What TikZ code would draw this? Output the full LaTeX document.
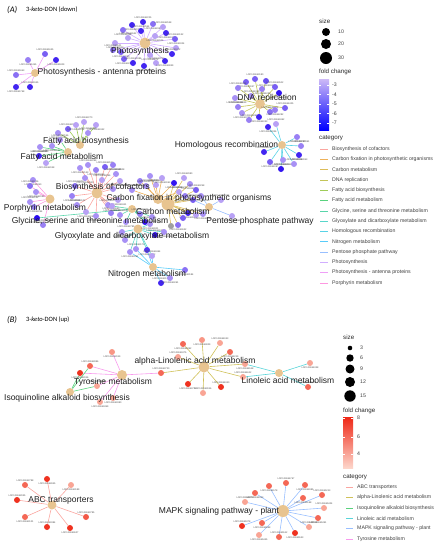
\documentclass[tikz,border=0pt]{standalone}
\usepackage{fontspec}
\setmainfont{Liberation Sans}
\newfontfamily\titfont{Carlito}
\usetikzlibrary{calc}
\pgfdeclarelayer{edgelayer}
\pgfsetlayers{edgelayer,main}
\definecolor{cA1}{HTML}{F8766D}\definecolor{cA2}{HTML}{E58700}
\definecolor{cA3}{HTML}{C99800}\definecolor{cA4}{HTML}{A3A500}
\definecolor{cA5}{HTML}{6BB100}\definecolor{cA6}{HTML}{00BA38}
\definecolor{cA7}{HTML}{00BF7D}\definecolor{cA8}{HTML}{00C0AF}
\definecolor{cA9}{HTML}{00BCD8}\definecolor{cA10}{HTML}{00B0F6}
\definecolor{cA11}{HTML}{619CFF}\definecolor{cA12}{HTML}{B983FF}
\definecolor{cA13}{HTML}{E76BF3}\definecolor{cA14}{HTML}{FD61D1}
\definecolor{cB1}{HTML}{F8766D}\definecolor{cB2}{HTML}{B79F00}
\definecolor{cB3}{HTML}{00BA38}\definecolor{cB4}{HTML}{00BFC4}
\definecolor{cB5}{HTML}{619CFF}\definecolor{cB6}{HTML}{F564E3}
\definecolor{gAl}{HTML}{C8B2F6}\definecolor{gAd}{HTML}{2A0CF0}
\definecolor{gBl}{HTML}{FCC4B4}\definecolor{gBd}{HTML}{EE2A18}
\definecolor{hubc}{HTML}{E8C490}
\tikzset{
 gene/.style={circle, inner sep=0pt, minimum size=6pt, draw=none},
 hub/.style={circle, inner sep=0pt, fill=hubc, draw=none},
 edge/.style={line width=0.6pt},
 hublab/.style={font=\fontsize{8.5}{9}\selectfont, text=black!88, inner sep=0pt},
 glab/.style={font=\fontsize{2.4}{2.6}\selectfont, text=black!70, inner sep=0pt},
 legtitle/.style={font=\fontsize{6.2}{7}\selectfont, anchor=west, inner sep=0pt, text=black!85},
 legtxt/.style={font=\fontsize{5.2}{6}\selectfont, anchor=west, text=black!75, inner sep=0pt},
 legdot/.style={circle, fill=black, inner sep=0pt, draw=none},
}
\newcommand\genes[3]{%
 \foreach \gx/\gy/\gs [count=\gi] in {#3} {
   \node[gene, fill=\gdark!\gs!\glight] (#1-\gi) at (\gx,\gy) {};
   \pgfmathtruncatemacro\gnum{mod(\gi*79+\gx*7+\gy*3,9000)+1000}
   \pgfmathsetmacro\gdy{(mod(\gi,2)==0) ? -4.6 : 4.6}
   \node[glab] (#1-\gi-t) at ($(#1-\gi)+(0,\gdy)$) {LOC10365\gnum};
   \begin{pgfonlayer}{edgelayer}\draw[edge, draw=#2!65!white] (#1) -- (#1-\gi);\end{pgfonlayer}
 }}
\newcommand\glink[3]{\begin{pgfonlayer}{edgelayer}\draw[edge, draw=#3!65!white] (#1) -- (#2);\end{pgfonlayer}}
\begin{document}
\begin{tikzpicture}[x=1pt,y=-1pt]
\useasboundingbox (0,0) rectangle (438,550);
% ---------------- Panel A ----------------
\node[anchor=west, inner sep=0pt, font=\titfont\fontsize{8.5}{9}\selectfont\itshape] (tA) at (7,10) {(A)};
\node[anchor=west, inner sep=0pt, font=\titfont\fontsize{6.5}{7}\selectfont] (tA2) at (26,10) {3-\textit{keto}-DON (down)};
\def\gdark{gAd}\def\glight{gAl}
\node[hub, minimum size=11pt] (ps) at (145,43) {};
\node[hub, minimum size=8pt] (an) at (35,73) {};
\node[hub, minimum size=10pt] (dna) at (260,104) {};
\node[hub, minimum size=8pt] (hr) at (282,145) {};
\node[hub, minimum size=8pt] (fab) at (80,145) {};
\node[hub, minimum size=8pt] (fam) at (68,152) {};
\node[hub, minimum size=11pt] (cof) at (97,193) {};
\node[hub, minimum size=9pt] (por) at (50,199) {};
\node[hub, minimum size=10pt] (cfx) at (158,199) {};
\node[hub, minimum size=13pt] (cm) at (168,204) {};
\node[hub, minimum size=8pt] (gly) at (132,209) {};
\node[hub, minimum size=9pt] (glx) at (138,229) {};
\node[hub, minimum size=8pt] (nit) at (153,267) {};
\node[hub, minimum size=8pt] (pp) at (209,207) {};
\genes{ps}{cA12}{132/25/85, 143/22/85, 153/24/40, 163/27/10, 123/30/40, 141/31/85, 166/33/85, 128/38/10, 155/36/10, 175/39/50, 115/43/10, 176/48/10, 121/52/50, 172/54/85, 124/59/50, 133/63/85, 144/66/85, 156/63/10, 165/61/85, 113/50/40, 150/55/10}
\genes{an}{cA13}{28/60/30, 45/54/50, 56/60/85, 16/75/40, 16/87/85, 30/87/85}
\genes{dna}{cA4}{246/82/50, 255/79/50, 266/81/60, 275/87/50, 279/93/95, 238/88/30, 235/98/20, 238/107/30, 242/113/20, 249/120/30, 259/117/85, 270/112/40, 275/110/30, 285/108/50, 262/89/30, 251/96/20}
\genes{hr}{cA9}{268/127/85, 276/124/10, 297/137/30, 301/146/30, 299/155/85, 294/164/20, 283/160/20, 281/169/95, 270/162/50, 264/152/85}
\genes{fab}{cA5}{58/133/20, 68/129/50, 76/125/10, 84/122/10, 96/125/10, 88/133/20}
\genes{fam}{cA6}{40/147/20, 39/156/85, 46/163/10, 60/140/20, 52/146/20}
\genes{cof}{cA1}{80/168/20, 88/165/20, 96/170/30, 105/167/50, 113/165/30, 116/174/20, 120/181/10, 102/180/10, 85/178/20, 75/186/40, 72/196/30, 77/205/20, 86/212/10, 108/205/20, 118/200/10, 111/213/30, 96/216/20, 113/189/20}
\genes{por}{cA14}{33/180/20, 30/186/40, 36/192/20, 30/202/20, 34/207/30, 43/225/30}
\genes{gly}{cA7}{37/218/100, 120/215/20, 126/222/20, 145/222/95, 152/217/20, 140/214/30, 112/206/10}
\genes{cfx}{cA2}{140/181/30, 146/186/20, 150/176/20, 156/185/10, 162/178/10, 132/190/20}
\genes{cm}{cA3}{174/183/95, 184/178/10, 190/184/20, 196/190/50, 201/196/20, 193/200/50, 188/213/85, 183/218/50, 178/225/40, 196/215/10, 203/214/20, 179/192/10, 185/196/30}
\node[gene, fill=gray!75] (cmg) at (171,226) {};
\glink{cm}{cmg}{cA3}
\genes{glx}{cA8}{150/224/20, 155/235/95, 164/232/20, 125/240/20, 130/252/20, 136/249/20, 147/250/75, 152/256/10, 122/232/20}
\genes{nit}{cA10}{185/270/40, 161/283/85, 170/278/20}
\glink{nit}{glx-5}{cA10}\glink{nit}{glx-6}{cA10}\glink{nit}{glx-7}{cA10}\glink{nit}{glx-8}{cA10}
\genes{pp}{cA11}{232/216/10, 221/200/10}
\glink{pp}{cm-5}{cA11}\glink{pp}{cm-6}{cA11}\glink{pp}{cm-11}{cA11}
\glink{cfx}{cm-1}{cA2}\glink{cfx}{cm-12}{cA2}\glink{gly}{glx-1}{cA7}\glink{cof}{gly-7}{cA1}
% hub labels A
\node[hublab] (ps-l) at (140,51) {Photosynthesis};
\node[hublab] (an-l) at (102,72) {Photosynthesis - antenna proteins};
\node[hublab] (dna-l) at (267,98) {DNA replication};
\node[hublab] (hr-l) at (226.5,145) {Homologous recombination};
\node[hublab] (fab-l) at (86,141) {Fatty acid biosynthesis};
\node[hublab] (fam-l) at (62,157) {Fatty acid metabolism};
\node[hublab] (cof-l) at (103,187) {Biosynthesis of cofactors};
\node[hublab] (cfx-l) at (189,198) {Carbon fixation in photosynthetic organisms};
\node[hublab] (por-l) at (45,208) {Porphyrin metabolism};
\node[hublab] (cm-l) at (173,211) {Carbon metabolism};
\node[hublab] (pp-l) at (260,221) {Pentose phosphate pathway};
\node[hublab] (gly-l) at (90,221) {Glycine, serine and threonine metabolism};
\node[hublab] (glx-l) at (132,236) {Glyoxylate and dicarboxylate metabolism};
\node[hublab] (nit-l) at (147,274) {Nitrogen metabolism};
% legend A
\node[legtitle] (sA) at (319,21) {size};
\node[legdot, minimum size=8pt] (sA1) at (326,32) {};
\node[legdot, minimum size=10pt] (sA2) at (326,44) {};
\node[legdot, minimum size=12pt] (sA3) at (326,58) {};
\node[legtxt] at (338,32) {10};
\node[legtxt] at (338,44) {20};
\node[legtxt] at (338,58) {30};
\node[legtitle] (fA) at (319,72) {fold change};
\shade[top color=gAl!90!white, bottom color=blue] (319,79) rectangle (329,130);
\foreach \v/\yy in {-3/85,-4/94.5,-5/104,-6/113.5,-7/123}{
  \draw[white, line width=0.4pt] (319,\yy) -- (321,\yy) (327,\yy) -- (329,\yy);
  \node[legtxt] at (332,\yy) {\v};}
\node[legtitle] (cA) at (319,138) {category};
\foreach \t/\c [count=\i] in {Biosynthesis of cofactors/cA1, Carbon fixation in photosynthetic organisms/cA2, Carbon metabolism/cA3, DNA replication/cA4, Fatty acid biosynthesis/cA5, Fatty acid metabolism/cA6, Glycine{,} serine and threonine metabolism/cA7, Glyoxylate and dicarboxylate metabolism/cA8, Homologous recombination/cA9, Nitrogen metabolism/cA10, Pentose phosphate pathway/cA11, Photosynthesis/cA12, Photosynthesis - antenna proteins/cA13, Porphyrin metabolism/cA14}{
  \pgfmathsetmacro\ly{149+(\i-1)*10.3}
  \coordinate (la\i) at (320,\ly); \coordinate (lb\i) at (328,\ly);
  \draw[draw=\c!65!white, line width=0.6pt] (la\i) -- (lb\i);
  \node[legtxt] (lt\i) at (332,\ly) {\t};}
% ---------------- Panel B ----------------
\node[anchor=west, inner sep=0pt, font=\titfont\fontsize{8.5}{9}\selectfont\itshape] (tB) at (7,320) {(B)};
\node[anchor=west, inner sep=0pt, font=\titfont\fontsize{6.5}{7}\selectfont] (tB2) at (26,320) {3-\textit{keto}-DON (up)};
\def\gdark{gBd}\def\glight{gBl}
\node[hub, minimum size=10pt] (tyr) at (122,375) {};
\node[hub, minimum size=8pt] (iso) at (70,392) {};
\node[hub, minimum size=11pt] (al) at (204,367) {};
\node[hub, minimum size=8pt] (lin) at (279,373) {};
\node[hub, minimum size=9pt] (abc) at (52,505) {};
\node[hub, minimum size=12pt] (mk) at (283,511) {};
\genes{tyr}{cB6}{112/352/30, 90/366/60, 80/373/95, 97/386/20, 113/398/20, 161/373/60, 100/402/20}
\glink{iso}{tyr-2}{cB3}\glink{iso}{tyr-3}{cB3}\glink{iso}{tyr-4}{cB3}
\genes{al}{cB2}{183/344/60, 178/357/20, 188/384/95, 203/393/20, 202/340/30, 220/343/20, 230/352/60, 221/387/95, 245/364/20, 243/377/20}
\glink{al}{tyr-6}{cB2}
\genes{lin}{cB4}{310/363/20, 308/387/60}
\glink{lin}{al-9}{cB4}\glink{lin}{al-10}{cB4}
\genes{abc}{cB1}{47/479/95, 25/485/60, 71/485/20, 17/500/95, 25/517/60, 47/527/95, 70/528/95, 86/517/70}
\genes{mk}{cB5}{255/493/60, 245/502/20, 269/486/60, 286/483/60, 305/485/60, 322/495/60, 303/498/60, 324/508/20, 318/518/60, 309/527/20, 295/533/95, 279/537/60, 259/535/20, 242/526/95, 262/523/60}
\node[hublab] (tyr-l) at (113,382) {Tyrosine metabolism};
\node[hublab] (iso-l) at (67,398) {Isoquinoline alkaloid biosynthesis};
\node[hublab] (al-l) at (195,361) {alpha-Linolenic acid metabolism};
\node[hublab] (lin-l) at (288,380) {Linoleic acid metabolism};
\node[hublab] (abc-l) at (61,500) {ABC transporters};
\node[hublab] (mk-l) at (219,511) {MAPK signaling pathway - plant};
% legend B
\node[legtitle] (sB) at (343,337) {size};
\node[legdot, minimum size=4.6pt] (sB1) at (350,348) {};
\node[legdot, minimum size=7.4pt] (sB2) at (350,358) {};
\node[legdot, minimum size=9pt] (sB3) at (350,369) {};
\node[legdot, minimum size=10pt] (sB4) at (350,382) {};
\node[legdot, minimum size=11.4pt] (sB5) at (350,396) {};
\foreach \v/\yy in {3/348,6/358,9/369,12/382,15/396}{\node[legtxt] at (360,\yy) {\v};}
\node[legtitle] (fB) at (343,411) {fold change};
\shade[top color=gBd!95!red, bottom color=gBl!70!white] (343,417) rectangle (353,468);
\foreach \v/\yy in {8/418,6/437,4/454}{
  \draw[white, line width=0.4pt] (343,\yy) -- (345,\yy) (351,\yy) -- (353,\yy);
  \node[legtxt] at (357,\yy) {\v};}
\node[legtitle] (cB) at (343,477) {category};
\foreach \t/\c [count=\i] in {ABC transporters/cB1, alpha-Linolenic acid metabolism/cB2, Isoquinoline alkaloid biosynthesis/cB3, Linoleic acid metabolism/cB4, MAPK signaling pathway - plant/cB5, Tyrosine metabolism/cB6}{
  \pgfmathsetmacro\ly{487+(\i-1)*10.4}
  \coordinate (ma\i) at (346,\ly); \coordinate (mb\i) at (353,\ly);
  \draw[draw=\c!65!white, line width=0.6pt] (ma\i) -- (mb\i);
  \node[legtxt] (mt\i) at (357,\ly) {\t};}
\end{tikzpicture}
\end{document}
